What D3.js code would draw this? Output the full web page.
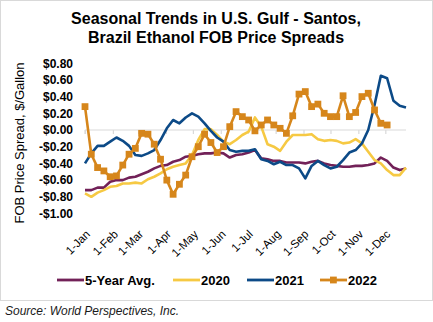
<!DOCTYPE html>
<html>
<head>
<meta charset="utf-8">
<script src="https://cdn.jsdelivr.net/npm/d3@7"></script>
<style>
  body { margin: 0; background: #fff; }
  text { font-family: Arial, "Liberation Sans", sans-serif; }
</style>
</head>
<body>
<svg id="chart" width="433" height="322"></svg>
<script>
// weekly observations starting 1-Jan
const startDate = new Date(2022, 0, 1);
const nWeeks = 52;

const avg5 = [-0.72, -0.72, -0.69, -0.69, -0.62, -0.60, -0.60, -0.57, -0.56, -0.53,
  -0.50, -0.46, -0.43, -0.42, -0.38, -0.36, -0.32, -0.31, -0.29, -0.28,
  -0.28, -0.27, -0.28, -0.33, -0.30, -0.29, -0.27, -0.24, -0.34, -0.35,
  -0.37, -0.37, -0.39, -0.39, -0.39, -0.40, -0.38, -0.37, -0.40, -0.42,
  -0.43, -0.44, -0.44, -0.43, -0.43, -0.42, -0.40, -0.33, -0.37, -0.45,
  -0.48, -0.46];

const y2020 = [-0.76, -0.80, -0.75, -0.72, -0.68, -0.67, -0.64, -0.64, -0.63, -0.64,
  -0.59, -0.56, -0.52, -0.47, -0.44, -0.42, -0.40, -0.30, -0.12, 0.01,
  0.01, -0.06, -0.14, -0.17, -0.12, -0.06, -0.02, 0.15, 0.04, -0.17,
  -0.20, -0.25, -0.14, -0.06, -0.06, -0.06, -0.05, -0.11, -0.13, -0.12,
  -0.13, -0.16, -0.15, -0.11, -0.16, -0.26, -0.36, -0.40, -0.48, -0.54,
  -0.54, -0.45];

const y2021 = [-0.40, -0.28, -0.19, -0.19, -0.14, -0.09, -0.13, -0.19, -0.30, -0.31,
  -0.28, -0.24, -0.12, 0.02, 0.12, 0.08, 0.15, 0.20, 0.16, 0.08,
  -0.01, -0.09, -0.14, -0.24, -0.26, -0.25, -0.25, -0.23, -0.35, -0.37,
  -0.41, -0.38, -0.42, -0.42, -0.46, -0.58, -0.43, -0.37, -0.42, -0.46,
  -0.44, -0.36, -0.27, -0.24, -0.16, 0.00, 0.30, 0.65, 0.62, 0.35,
  0.29, 0.27];

const y2022 = [0.28, -0.29, -0.45, -0.49, -0.56, -0.55, -0.42, -0.29, -0.22, -0.04,
  -0.05, -0.17, -0.35, -0.60, -0.77, -0.65, -0.54, -0.32, -0.20, -0.05,
  -0.15, -0.27, -0.20, 0.04, 0.22, 0.16, 0.12, -0.01, 0.06, 0.12,
  0.06, 0.02, -0.04, 0.17, 0.43, 0.46, 0.28, 0.31, 0.20, 0.16,
  0.16, 0.41, 0.16, 0.21, 0.40, 0.44, 0.24, 0.08, 0.06];

const yTicks = [0.8, 0.6, 0.4, 0.2, 0, -0.2, -0.4, -0.6, -0.8, -1.0];
const monthLabels = ["1-Jan", "1-Feb", "1-Mar", "1-Apr", "1-May", "1-Jun",
  "1-Jul", "1-Aug", "1-Sep", "1-Oct", "1-Nov", "1-Dec"];

const seriesNames = ["5-Year Avg.", "2020", "2021", "2022"];
const seriesColors = ["#722158", "#F6C943", "#0C4A87", "#D6861B"];

const svg = d3.select("#chart");
const width = +svg.attr("width");

const dates = d3.range(nWeeks).map(i => d3.timeDay.offset(startDate, 7 * i));
const monthDates = d3.range(12).map(m => new Date(2022, m, 1));

const x = d3.scaleTime().domain([dates[0], dates[nWeeks - 1]]).range([85, 406]);
const y = d3.scaleLinear().domain([-1, 0.8]).range([213.5, 63.2]);

// frame
svg.append("rect")
  .attr("x", 0.5).attr("y", 0.5)
  .attr("width", width - 1).attr("height", 300)
  .attr("fill", "#fff").attr("stroke", "#d9d9d9");

// title
const title = svg.append("text")
  .attr("x", 216).attr("y", 24)
  .attr("text-anchor", "middle")
  .attr("font-size", 16).attr("font-weight", "bold").attr("fill", "#000");
title.append("tspan").attr("x", 216).text("Seasonal Trends in U.S. Gulf - Santos,");
title.append("tspan").attr("x", 216).attr("dy", 18.5).text("Brazil Ethanol FOB Price Spreads");

// y axis labels
const fmt = v => {
  const s = "$" + Math.abs(v).toFixed(2);
  return v < -1e-9 ? "-" + s : s;
};
const yAxisG = svg.append("g").attr("transform", "translate(73,0)")
  .call(d3.axisLeft(y).tickValues(yTicks).tickFormat(fmt).tickSize(0).tickPadding(0));
yAxisG.select(".domain").remove();
yAxisG.selectAll("text")
  .attr("font-size", 12).attr("font-weight", "bold").attr("fill", "#000")
  .style("font-family", "Arial, 'Liberation Sans', sans-serif");

svg.append("text")
  .attr("transform", "translate(24,143) rotate(-90)")
  .attr("text-anchor", "middle")
  .attr("font-size", 13).attr("fill", "#000")
  .text("FOB Price Spread, $/Gallon");

// zero axis with month ticks
const xAxisG = svg.append("g").attr("transform", `translate(0,${y(0)})`)
  .call(d3.axisBottom(x).tickValues(monthDates).tickFormat("").tickSizeOuter(0).tickSizeInner(4));
xAxisG.select(".domain").attr("stroke", "#d9d9d9").attr("stroke-width", 1.2)
  .attr("d", `M${x.range()[0]},0V4M${x.range()[0]},0H${x.range()[1]}`);
xAxisG.selectAll(".tick line").attr("stroke", "#d9d9d9").attr("stroke-width", 1.2);

// month labels at the bottom
svg.append("g").selectAll("text")
  .data(monthDates)
  .join("text")
  .attr("transform", (d) => `translate(${x(d) + 3},${232}) rotate(-45)`)
  .attr("text-anchor", "end")
  .attr("dy", "0.35em")
  .attr("font-size", 11.5).attr("fill", "#000")
  .text((d, i) => monthLabels[i]);

// lines
const line = d3.line()
  .x((d, i) => x(dates[i]))
  .y(d => y(d));

const allSeries = [avg5, y2020, y2021, y2022];
svg.append("g").selectAll("path")
  .data(allSeries)
  .join("path")
  .attr("d", line)
  .attr("fill", "none")
  .attr("stroke", (d, i) => seriesColors[i])
  .attr("stroke-width", 2.6)
  .attr("stroke-linejoin", "round");

// 2022 markers
svg.append("g").selectAll("rect")
  .data(y2022)
  .join("rect")
  .attr("x", (d, i) => x(dates[i]) - 3.4)
  .attr("y", d => y(d) - 3.4)
  .attr("width", 6.8).attr("height", 6.8)
  .attr("fill", seriesColors[3]);

// legend
const legendX = [57, 173, 247, 320];
const legend = svg.append("g").selectAll("g")
  .data(seriesNames)
  .join("g")
  .attr("transform", (d, i) => `translate(${legendX[i]},280)`);
legend.append("line")
  .attr("x1", 0).attr("x2", 27)
  .attr("stroke", (d, i) => seriesColors[i]).attr("stroke-width", 2.8);
legend.filter((d, i) => i === 3).append("rect")
  .attr("x", 10).attr("y", -3.4).attr("width", 6.8).attr("height", 6.8)
  .attr("fill", seriesColors[3]);
legend.append("text")
  .attr("x", 28).attr("dy", "0.36em")
  .attr("font-size", 13).attr("font-weight", "bold").attr("fill", "#000")
  .text(d => d);

// source
svg.append("text")
  .attr("x", 5).attr("y", 315)
  .attr("font-size", 12).attr("font-style", "italic").attr("fill", "#1a1a1a")
  .text("Source: World Perspectives, Inc.");
</script>
</body>
</html>
